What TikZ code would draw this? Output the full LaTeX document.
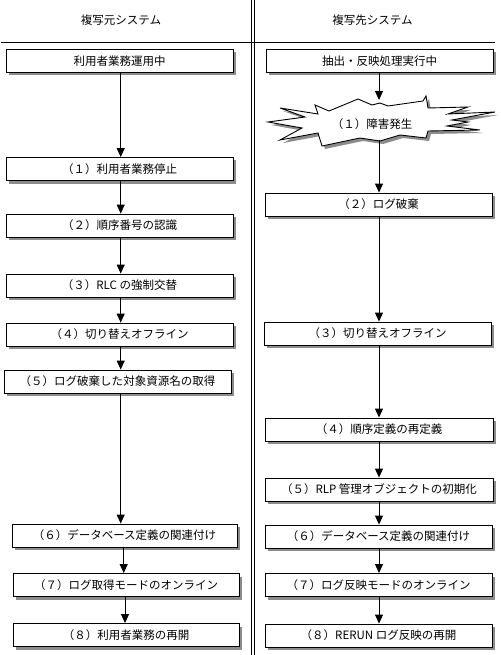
\documentclass[tikz,border=0pt]{standalone}
\usepackage{fontspec}
\setmainfont{Noto Sans CJK JP}
\usetikzlibrary{arrows.meta,shadows}
\begin{document}
\begin{tikzpicture}[x=1pt,y=-1pt,
  lbl/.style={font=\fontsize{11.5}{13}\selectfont},
  box/.style={draw, line width=0.9pt, fill=white, minimum width=227pt, minimum height=23pt, inner sep=0pt,
    lbl, drop shadow={shadow xshift=3pt, shadow yshift=-3pt, opacity=1, fill=black!45}},
  arr/.style={line width=0.9pt, -{Triangle[width=8pt,length=9pt]}},
  rule/.style={line width=0.9pt}]
\useasboundingbox (0,0) rectangle (500,655);
\fill[white] (0,0) rectangle (500,655);
% header and separators
\node[lbl] (h1) at (121,20) {複写元システム};
\node[lbl] (h2) at (372.5,20) {複写先システム};
\draw[rule] (1,42) -- (495,42);
\draw[rule] (251,0) -- (251,655);
\draw[rule] (254.5,0) -- (254.5,655);
\coordinate (xl) at (120.7,0);
\coordinate (xr) at (379,0);
% left column
\node[box] (L0) at (119.5,61) {利用者業務運用中};
\node[box] (L1) at (119.5,169) {（１）利用者業務停止};
\node[box] (L2) at (119.5,225.5) {（２）順序番号の認識};
\node[box] (L3) at (119.5,285.5) {（３）RLC の強制交替};
\node[box] (L4) at (119.5,334.5) {（４）切り替えオフライン};
\node[box] (L5) at (117.5,381.5) {（５）ログ破棄した対象資源名の取得};
\node[box,minimum width=225pt] (L6) at (124.5,535.5) {（６）データベース定義の関連付け};
\node[box,minimum width=226pt] (L7) at (126,585) {（７）ログ取得モードのオンライン};
\node[box,minimum width=226pt] (L8) at (126,635) {（８）利用者業務の再開};
% right column
\node[box] (R0) at (379.5,61) {抽出・反映処理実行中};
\node[box] (R2) at (378.5,204.5) {（２）ログ破棄};
\node[box] (R3) at (377.5,333.5) {（３）切り替えオフライン};
\node[box,minimum width=228pt] (R4) at (379,429.5) {（４）順序定義の再定義};
\node[box,minimum width=228pt] (R5) at (379,489.5) {（５）RLP 管理オブジェクトの初期化};
\node[box] (R6) at (378.5,536.5) {（６）データベース定義の関連付け};
\node[box] (R7) at (378.5,585) {（７）ログ反映モードのオンライン};
\node[box] (R8) at (378.5,635.5) {（８）RERUN ログ反映の再開};
% star burst
\def\starpath{(315,105) -- (329,111) -- (358,99) -- (372,105) -- (380,103) -- (388,106) -- (423,101) -- (426,96) -- (428,108) -- (468,107) -- (448,114) -- (495,112) -- (452,120) -- (468,122) -- (447,126) -- (480,130) -- (428,131) -- (426,138) -- (400,135) -- (380,141) -- (360,138) -- (322,146) -- (318,133) -- (280,140) -- (302,128) -- (268,122) -- (305,117) -- (280,108) -- (318,114) -- cycle}
\fill[black!45, shift={(3,3)}] \starpath;
\filldraw[fill=white, line width=0.9pt] \starpath;
\node[lbl] (star) at (372,124) {（１）障害発生};
\coordinate (st) at (379,100);
\coordinate (sb) at (379,140.5);
% left arrows
\draw[arr] (L0.south -| xl) -- (L1.north -| xl);
\draw[arr] (L1.south -| xl) -- (L2.north -| xl);
\draw[arr] (L2.south -| xl) -- (L3.north -| xl);
\draw[arr] (L3.south -| xl) -- (L4.north -| xl);
\draw[arr] (L4.south -| xl) -- (L5.north -| xl);
\draw[arr] (L5.south -| xl) -- (L6.north -| xl);
\draw[arr] ([xshift=-0.8pt]L6.south) -- ([xshift=-0.8pt]L6.south |- L7.north);
\draw[arr] ([xshift=-1pt]L7.south) -- ([xshift=-1pt]L7.south |- L8.north);
% right arrows
\draw[arr] (R0.south -| xr) -- (st);
\draw[arr] (sb) -- (R2.north -| xr);
\draw[arr] (R2.south -| xr) -- (R3.north -| xr);
\draw[arr] (R3.south -| xr) -- (R4.north -| xr);
\draw[arr] (R4.south -| xr) -- (R5.north -| xr);
\draw[arr] (R5.south -| xr) -- (R6.north -| xr);
\draw[arr] (R6.south -| xr) -- (R7.north -| xr);
\draw[arr] (R7.south -| xr) -- (R8.north -| xr);
\end{tikzpicture}
\end{document}
